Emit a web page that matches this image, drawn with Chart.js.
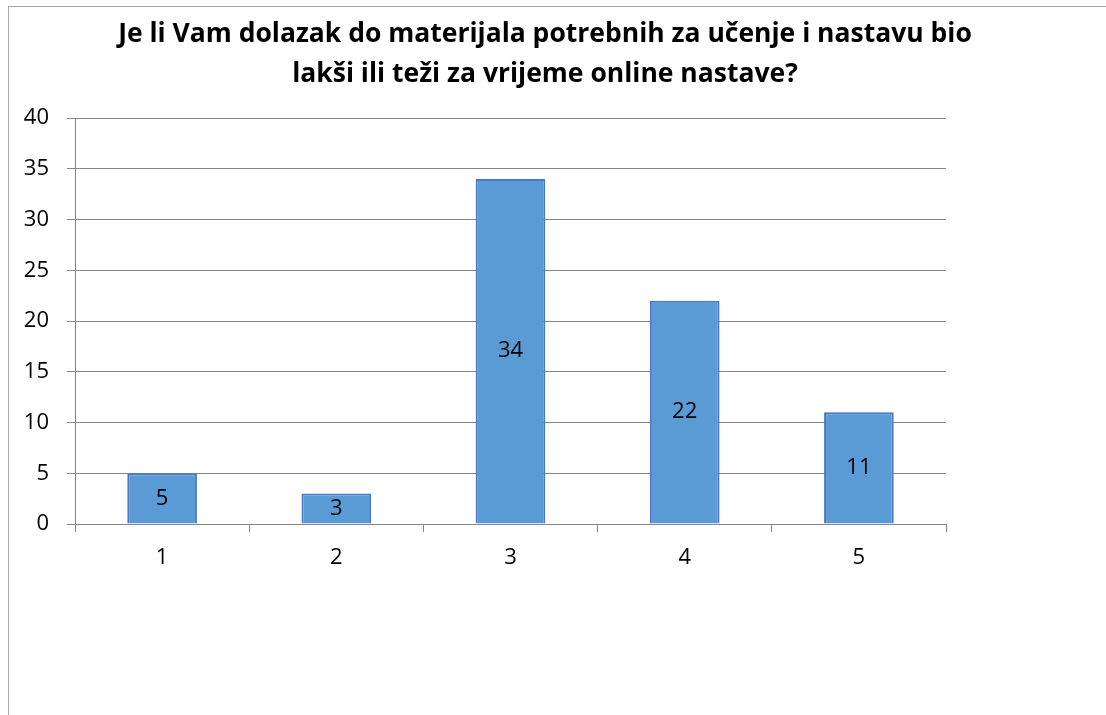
<!DOCTYPE html>
<html>
<head>
<meta charset="utf-8">
<script src="https://cdn.jsdelivr.net/npm/chart.js@4.4.0/dist/chart.umd.min.js"></script>
<style>
  html, body { margin: 0; padding: 0; background: #fff; }
  #frame {
    position: absolute; left: 8px; top: 6px; width: 1098px; height: 709px;
    border-left: 1px solid #a6a6a6; border-top: 1px solid #a6a6a6;
  }
  #chart { position: absolute; left: 0; top: 0; }
</style>
</head>
<body>
<div id="frame"><canvas id="chart" width="1097" height="708"></canvas></div>
<script>
// Values
const categories = ['1', '2', '3', '4', '5'];
const answerCounts = [5, 3, 34, 22, 11];
const titleLines = [
    'Je li Vam dolazak do materijala potrebnih za učenje i nastavu bio',
    'lakši ili teži za vrijeme online nastave?'
];
const yMax = 40;
const yStep = 5;

const fontFamily = "'Open Sans', 'Noto Sans', sans-serif";

// title is drawn by hand so it can sit centred over the whole chart box
const chartTitle = {
    id: 'chartTitle',
    afterDraw(chart) {
        const ctx = chart.ctx;
        ctx.save();
        ctx.font = 'bold 26.5px ' + fontFamily;
        ctx.fillStyle = '#000';
        ctx.textAlign = 'center';
        ctx.textBaseline = 'middle';
        titleLines.forEach((line, i) => {
            ctx.fillText(line, 536, 27 + i * 40);
        });
        ctx.restore();
    }
};

// draws the value in the middle of every bar
const centerLabels = {
    id: 'centerLabels',
    afterDatasetsDraw(chart) {
        const ctx = chart.ctx;
        ctx.save();
        ctx.font = '22px ' + fontFamily;
        ctx.fillStyle = '#000';
        ctx.textAlign = 'center';
        ctx.textBaseline = 'middle';
        chart.getDatasetMeta(0).data.forEach((bar, i) => {
            const midY = (bar.y + bar.base) / 2;
            ctx.fillText(String(answerCounts[i]), bar.x, midY);
        });
        ctx.restore();
    }
};

const ctx = document.getElementById('chart');
new Chart(ctx, {
    type: 'bar',
    data: {
        labels: categories,
        datasets: [{
            data: answerCounts,
            backgroundColor: '#5b9bd5',
            borderColor: '#4a78c8',
            borderWidth: 2,
            categoryPercentage: 1,
            barPercentage: 0.4
        }]
    },
    options: {
        responsive: false,
        animation: false,
        layout: { padding: { left: 0, right: 160, top: 111, bottom: 0 } },
        plugins: {
            legend: { display: false },
            tooltip: { enabled: false },
            title: { display: false }
        },
        scales: {
            x: {
                afterFit(scale) { scale.height = 191; },
                grid: {
                    drawOnChartArea: false,
                    drawTicks: true,
                    tickLength: 8,
                    color: '#868686',
                    offset: true
                },
                border: { display: true, color: '#868686' },
                ticks: {
                    color: '#000',
                    padding: 13,
                    font: { family: fontFamily, size: 22 }
                }
            },
            y: {
                min: 0,
                max: yMax,
                afterFit(scale) { scale.width = 66; },
                grid: { color: '#868686', tickLength: 8 },
                border: { display: true, color: '#868686' },
                ticks: {
                    stepSize: yStep,
                    color: '#000',
                    padding: 18,
                    font: { family: fontFamily, size: 22 }
                }
            }
        }
    },
    plugins: [centerLabels, chartTitle]
});
</script>
</body>
</html>
